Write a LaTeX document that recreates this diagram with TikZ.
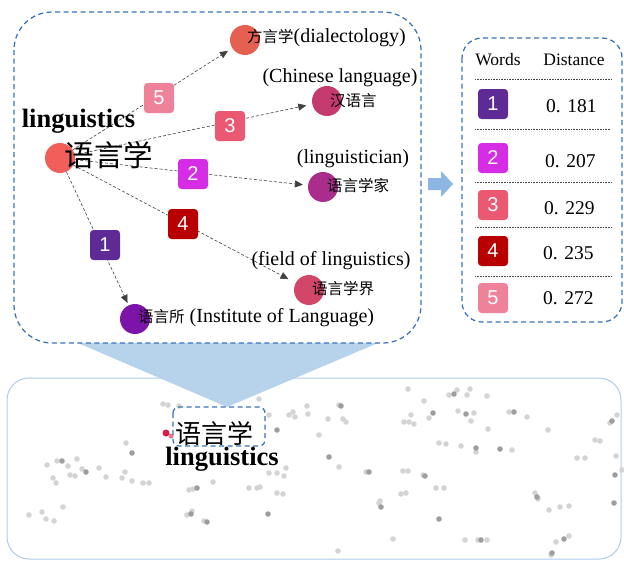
\documentclass[tikz,border=0pt]{standalone}
\usepackage{fontspec}
\setmainfont{Liberation Serif}
\newfontfamily\cjk{Noto Sans CJK SC}
\newfontfamily\badgefont{Liberation Sans}
\usetikzlibrary{arrows.meta}
\definecolor{boxblue}{RGB}{58,114,186}
\definecolor{lightborder}{RGB}{172,205,236}
\definecolor{funnelc}{RGB}{183,211,236}
\definecolor{arrowc}{RGB}{141,182,226}
\definecolor{cc}{RGB}{242,94,90}
\definecolor{cfang}{RGB}{229,96,80}
\definecolor{chan}{RGB}{196,58,110}
\definecolor{cjia}{RGB}{170,45,140}
\definecolor{cjie}{RGB}{210,70,105}
\definecolor{csuo}{RGB}{125,20,170}
\definecolor{bone}{RGB}{94,42,150}
\definecolor{btwo}{RGB}{214,44,230}
\definecolor{bthree}{RGB}{234,88,114}
\definecolor{bfour}{RGB}{184,0,0}
\definecolor{bfive}{RGB}{238,130,155}
\definecolor{reddot}{RGB}{215,30,70}
\begin{document}
\begin{tikzpicture}[x=1pt,y=-1pt,
  bluedash/.style={draw=boxblue,line width=1.25pt,dash pattern=on 5pt off 3.5pt},
  wnode/.style={circle,inner sep=0pt,minimum size=30pt},
  badge/.style={rounded corners=3.5pt,minimum width=30pt,minimum height=30pt,inner sep=0pt,text=white,font=\badgefont\fontsize{20}{22}\selectfont},
  edgeline/.style={draw=black!75,line width=0.6pt,dash pattern=on 3pt off 2pt,-{Triangle[length=8pt,width=7pt]}},
  entxt/.style={inner sep=0pt,font=\fontsize{20}{24}\selectfont},
  cntxt/.style={inner sep=0pt,font=\cjk\fontsize{15.5}{18}\selectfont},
  tline/.style={draw=black!70,line width=0.6pt,densely dotted},
  valtxt/.style={inner sep=0pt,anchor=west,font=\fontsize{19.5}{22}\selectfont},
  lightdot/.style={fill=black!17},
  darkdot/.style={fill=black!38}]
\useasboundingbox (0,0) rectangle (624,560);

% bottom panel
\draw[draw=lightborder,line width=1pt,rounded corners=22pt] (7,378) rectangle (621,559);
\foreach \px/\py in {126/443,47/465,57/461,68/466,77/459,82/469,99/468,70/475,75/476,53/478,56/483,106/477,125/472,122/478,132/481,143/483,149/483,189/490,193/489,213/482,249/488,257/488,260/487,269/473,277/473,284/476,286/468,277/493,283/494,29/515,42/512,46/519,54/521,63/507,187/515,192/511,204/521,163/404,168/405,179/406,259/399,269/415,289/415,293/412,295/417,307/406,308/414,319/435,328/419,343/419,346/422,339/405,339/467,408/389,424/401,404/422,409/422,414/424,411/415,429/418,449/395,457/390,467/395,470/389,487/396,458/411,474/413,471/421,509/412,527/417,488/429,548/430,610/423,617/415,439/443,446/444,461/446,476/452,512/450,595/440,600/441,577/458,585/458,616/456,622/470,366/472,403/471,408/471,423/475,436/488,444/488,401/494,406/493,380/501,379/503,535/493,538/499,549/510,560/507,569/506,393/539,465/540,478/540,487/540,556/542,569/536,338/551,551/555}
  \fill[lightdot] (\px,\py) circle (2.8pt);
\foreach \px/\py in {132/453,197/488,62/461,86/472,191/514,207/522,268/514,277/430,341/406,329/457,433/413,454/394,466/414,514/412,612/421,476/448,500/449,615/475,369/472,425/476,439/519,381/507,537/497,614/503,481/540,564/539,552/553}
  \fill[darkdot] (\px,\py) circle (2.8pt);

% funnel
\fill[funnelc] (78,343) -- (378,343) -- (227,407) -- cycle;

% bottom highlighted word
\fill[reddot] (166,433) circle (3.5pt);
\fill[reddot!60] (171,436) circle (2.5pt);
\draw[bluedash,rounded corners=6pt] (173,407) rectangle (265,446);
\node[inner sep=0pt,font=\cjk\fontsize{26}{30}\selectfont] (bw) at (214,433) {语言学};
\node[inner sep=0pt,font=\bfseries\fontsize{26.5}{30}\selectfont] (bl) at (222,459) {linguistics};

% main dashed panel
\draw[bluedash,rounded corners=38pt] (14,12) rectangle (421,343);
% table panel
\draw[bluedash,rounded corners=20pt] (462,38) rectangle (622,322);
% block arrow
\fill[arrowc] (428,178) -- (441,178) -- (441,171) -- (453,184) -- (441,197) -- (441,190) -- (428,190) -- cycle;

% word nodes
\node[wnode,fill=cc] (c) at (60,158) {};
\node[wnode,fill=cfang] (t5) at (245,40) {};
\node[wnode,fill=chan] (t3) at (327,101) {};
\node[wnode,fill=cjia] (t2) at (323,187) {};
\node[wnode,fill=cjie] (t4) at (309,290) {};
\node[wnode,fill=csuo] (t1) at (135,319) {};

% edges
\draw[edgeline,shorten >=5pt] (c) -- (t5);
\draw[edgeline,shorten >=6pt] (c) -- (t3);
\draw[edgeline,shorten >=5pt] (c) -- (t2);
\draw[edgeline,shorten >=8pt] (c) -- (t4);
\draw[edgeline,shorten >=2.5pt] (c) -- (t1);

% edge badges
\node[badge,fill=bfive] (e5) at (159,98) {5};
\node[badge,fill=bthree] (e3) at (230,126) {3};
\node[badge,fill=btwo] (e2) at (193,174) {2};
\node[badge,fill=bfour] (e4) at (183,224) {4};
\node[badge,fill=bone] (e1) at (105,245) {1};

% labels
\node[inner sep=0pt,font=\bfseries\fontsize{26.5}{30}\selectfont] (cl) at (78.5,121) {linguistics};
\node[inner sep=0pt,font=\cjk\fontsize{29.5}{34}\selectfont] (cw) at (109,155) {语言学};
\node[inner sep=0pt,anchor=west] (l5) at (247,38) {{\cjk\fontsize{15.5}{18}\selectfont 方言学}{\fontsize{20}{24}\selectfont(dialectology)}};
\node[entxt] (l3e) at (340,78) {(Chinese language)};
\node[cntxt,anchor=west] (l3c) at (330,101) {汉语言};
\node[entxt] (l2e) at (353,159) {(linguistician)};
\node[cntxt,anchor=west] (l2c) at (327,186) {语言学家};
\node[entxt] (l4e) at (331,261) {(field of linguistics)};
\node[cntxt,anchor=west] (l4c) at (312,289) {语言学界};
\node[inner sep=0pt,anchor=west] (l1) at (138,318) {{\cjk\fontsize{15.5}{18}\selectfont 语言所}{\fontsize{20}{24}\selectfont\ (Institute of Language)}};

% table
\node[inner sep=0pt,font=\fontsize{17.5}{20}\selectfont] (hw) at (498,60) {Words};
\node[inner sep=0pt,font=\fontsize{17.5}{20}\selectfont] (hd) at (574,60) {Distance};
\coordinate (r0a) at (475,79); \coordinate (r0b) at (612,79);
\coordinate (r1a) at (475,129); \coordinate (r1b) at (610,129);
\coordinate (r2a) at (475,182); \coordinate (r2b) at (612,182);
\coordinate (r3a) at (475,227); \coordinate (r3b) at (612,227);
\coordinate (r4a) at (475,276); \coordinate (r4b) at (612,276);
\draw[tline] (r0a) -- (r0b);
\draw[tline] (r1a) -- (r1b);
\draw[tline] (r2a) -- (r2b);
\draw[tline] (r3a) -- (r3b);
\draw[tline] (r4a) -- (r4b);
\node[badge,fill=bone] (k1) at (493,104) {1};
\node[badge,fill=btwo] (k2) at (493,158) {2};
\node[badge,fill=bthree] (k3) at (493,205) {3};
\node[badge,fill=bfour] (k4) at (493,251) {4};
\node[badge,fill=bfive] (k5) at (493,298) {5};
\node[valtxt] (v1) at (546,106) {0. 181};
\node[valtxt] (v2) at (545,161) {0. 207};
\node[valtxt] (v3) at (544,208) {0. 229};
\node[valtxt] (v4) at (543,253) {0. 235};
\node[valtxt] (v5) at (543,298) {0. 272};
\end{tikzpicture}
\end{document}
